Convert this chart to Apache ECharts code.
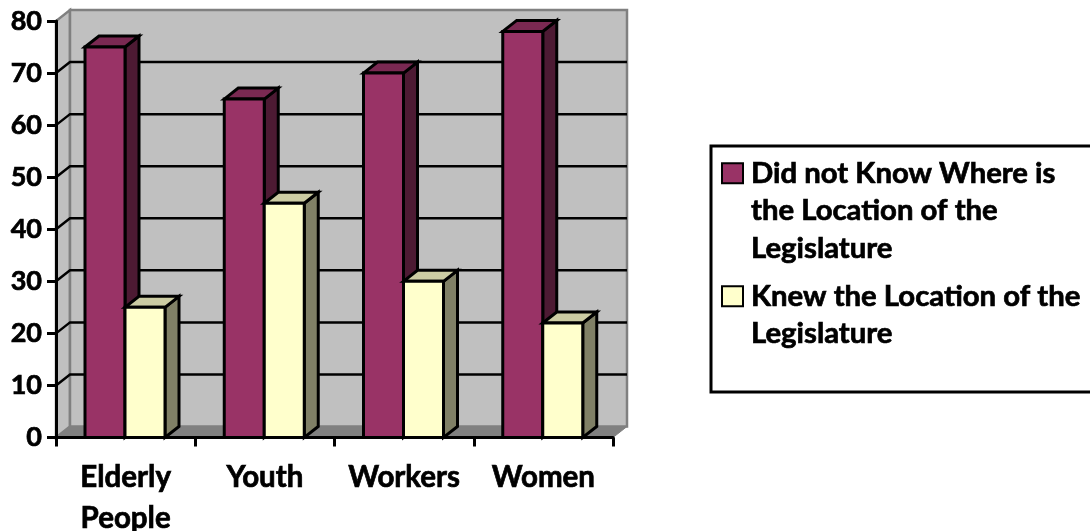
<!DOCTYPE html>
<html>
<head>
<meta charset="utf-8">
<style>
html, body { margin: 0; padding: 0; background: #fff; overflow: hidden; }
#chart { width: 1090px; height: 531px; }
</style>
<script src="https://cdn.jsdelivr.net/npm/echarts@6/dist/echarts.min.js"></script>
</head>
<body>
<div id="chart"></div>
<script>
const categories = ['Elderly\nPeople', 'Youth', 'Workers', 'Women']
const didNotKnow = [75, 65, 70, 78]
const knew = [25, 45, 30, 22]
const yTicks = [0, 10, 20, 30, 40, 50, 60, 70, 80]
const nameDidNotKnow = 'Did not Know Where is\nthe Location of the\nLegislature'
const nameKnew = 'Knew the Location of the\nLegislature'

const font = 'Lato'
const depthX = 14
const depthY = -11
const barW = 40
const barGap = 29

// back wall, side wall, floor and the grid lines painted on them
const renderWall = (params, api) => {
  const rect = params.coordSys
  const tick = api.value(1)
  const y = api.coord([0, tick])[1]
  const left = rect.x
  const right = rect.x + rect.width
  const children = []
  if (tick === 0) {
    const topY = api.coord([0, 80])[1]
    const wallStyle = { fill: '#c0c0c0', stroke: '#808080', lineWidth: 2.5 }
    children.push({
      type: 'polygon',
      shape: { points: [[left, y], [left, topY], [left + depthX, topY + depthY], [left + depthX, y + depthY]] },
      style: wallStyle
    })
    children.push({
      type: 'polygon',
      shape: { points: [[left + depthX, y + depthY], [left + depthX, topY + depthY], [right + depthX, topY + depthY], [right + depthX, y + depthY]] },
      style: wallStyle
    })
    children.push({
      type: 'polygon',
      shape: { points: [[left, y], [left + depthX, y + depthY], [right + depthX, y + depthY], [right, y]] },
      style: { fill: '#808080', stroke: '#808080', lineWidth: 1 }
    })
  } else if (tick < 80) {
    children.push({
      type: 'polyline',
      shape: { points: [[left, y], [left + depthX, y + depthY], [right + depthX, y + depthY]] },
      style: { fill: null, stroke: '#000', lineWidth: 2.5 }
    })
  }
  return { type: 'group', children }
}

const makeBar = (offset, front, top, side) => (params, api) => {
  const base = api.coord([api.value(0), 0])
  const head = api.coord([api.value(0), api.value(1)])
  const band = api.size([1, 0])[0]
  const x0 = base[0] - band / 2 + barGap + offset
  const x1 = x0 + barW
  const edge = { stroke: '#000', lineWidth: 3, lineJoin: 'miter' }
  return {
    type: 'group',
    children: [
      {
        type: 'polygon',
        shape: { points: [[x1, head[1]], [x1 + depthX, head[1] + depthY], [x1 + depthX, base[1] + depthY], [x1, base[1]]] },
        style: { fill: side, ...edge }
      },
      {
        type: 'polygon',
        shape: { points: [[x0, head[1]], [x0 + depthX, head[1] + depthY], [x1 + depthX, head[1] + depthY], [x1, head[1]]] },
        style: { fill: top, ...edge }
      },
      {
        type: 'polygon',
        shape: { points: [[x0, head[1]], [x1, head[1]], [x1, base[1]], [x0, base[1]]] },
        style: { fill: front, ...edge }
      }
    ]
  }
}

const labelStyle = { color: '#000', fontFamily: font, fontWeight: 'bold', textBorderColor: '#000', textBorderWidth: 0.7 }

const myChart = echarts.init(document.getElementById('chart'))
const option = {
  animation: false,
  backgroundColor: '#fff',
  textStyle: { fontFamily: font },
  grid: { left: 56, width: 557, top: 21, height: 416.5, outerBoundsMode: 'none' },
  xAxis: {
    type: 'category',
    data: categories,
    z: 5,
    axisLine: { lineStyle: { color: '#000', width: 3 } },
    axisTick: { show: true, interval: 0, length: 9, lineStyle: { color: '#000', width: 3 } },
    axisLabel: { ...labelStyle, interval: 0, hideOverlap: false, fontSize: 29.5, lineHeight: 41, margin: 19 }
  },
  yAxis: {
    type: 'value',
    min: 0,
    max: 80,
    interval: 10,
    z: 5,
    splitLine: { show: false },
    axisLine: { show: true, lineStyle: { color: '#000', width: 3 } },
    axisTick: { show: true, length: 9, lineStyle: { color: '#000', width: 3 } },
    axisLabel: { ...labelStyle, fontSize: 27, margin: 14 }
  },
  legend: {
    left: 716,
    top: 74.5,
    orient: 'vertical',
    itemWidth: 21,
    itemHeight: 20,
    itemGap: -27,
    selectedMode: false,
    data: [
      { name: nameDidNotKnow, icon: 'rect', itemStyle: { color: '#993366', borderColor: '#000', borderWidth: 2 } },
      { name: nameKnew, icon: 'rect', itemStyle: { color: '#ffffcc', borderColor: '#000', borderWidth: 2 } }
    ],
    // blank lines keep the swatch level with the first text line
    formatter: name => (name === nameDidNotKnow ? '\n\n' : '\n') + name,
    textStyle: { ...labelStyle, fontSize: 29.3, lineHeight: 37.5, padding: [0, 0, 0, 3] }
  },
  graphic: [{
    type: 'rect',
    z: -1,
    shape: { x: 711, y: 146, width: 390, height: 246 },
    style: { fill: '#fff', stroke: '#000', lineWidth: 3 }
  }],
  series: [
    {
      type: 'custom',
      name: 'wall',
      renderItem: renderWall,
      data: yTicks.map(t => [0, t]),
      clip: false,
      silent: true,
      z: 1
    },
    {
      type: 'custom',
      name: nameDidNotKnow,
      renderItem: makeBar(0, '#993366', '#7a2952', '#4d1a33'),
      data: didNotKnow.map((v, i) => [i, v]),
      clip: false,
      z: 2
    },
    {
      type: 'custom',
      name: nameKnew,
      renderItem: makeBar(barW, '#ffffcc', '#ccccA3', '#808066'),
      data: knew.map((v, i) => [i, v]),
      clip: false,
      z: 3
    }
  ]
}
myChart.setOption(option)
</script>
</body>
</html>
